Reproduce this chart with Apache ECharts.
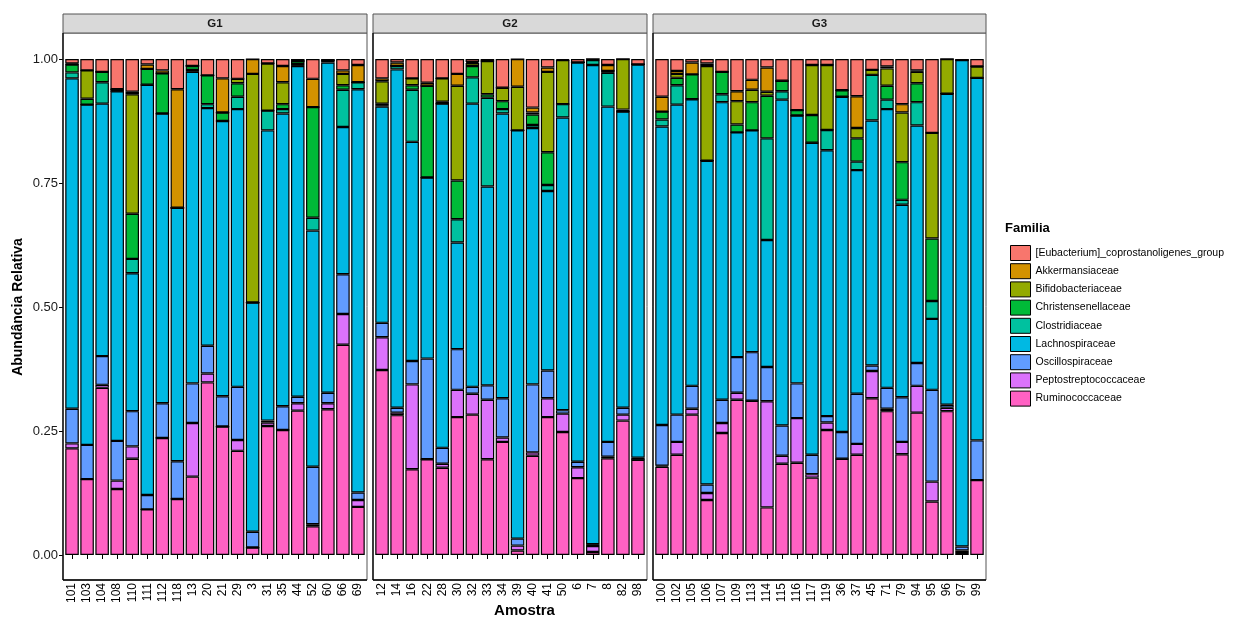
<!DOCTYPE html>
<html><head><meta charset="utf-8">
<script src="https://cdn.jsdelivr.net/npm/echarts@6/dist/echarts.min.js"></script>
<style>html,body{margin:0;padding:0;background:#fff}#c{width:1235px;height:619px}</style>
</head><body><div id="c"></div>
<script>
// ---------- DATA ----------
const groups = ['G1', 'G2', 'G3'];
const samplesG1 = ['101','103','104','108','110','111','112','118','13','20','21','29','3','31','35','44','52','60','66','69'];
const samplesG2 = ['12','14','16','22','28','30','32','33','34','39','40','41','50','6','7','8','82','98'];
const samplesG3 = ['100','102','105','106','107','109','113','114','115','116','117','119','36','37','45','71','79','94','95','96','97','99'];
const yTicks = [0, 0.25, 0.5, 0.75, 1];

// Legend order (top to bottom)
const families = ['[Eubacterium]_coprostanoligenes_group','Akkermansiaceae','Bifidobacteriaceae','Christensenellaceae','Clostridiaceae','Lachnospiraceae','Oscillospiraceae','Peptostreptococcaceae','Ruminococcaceae'];

// Values per family, samples in order G1 | G2 | G3
const ruminococcaceae = [
  .215,.153,.337,.133,.194,.092,.236,.113,.158,.348,.259,.210,.015,.260,.252,.291,.058,.294,.424,.097,
  .373,.282,.173,.193,.176,.278,.283,.193,.228,.009,.200,.278,.248,.155,.006,.195,.271,.192,
  .178,.202,.283,.111,.246,.313,.311,.096,.184,.186,.156,.252,.194,.202,.316,.290,.203,.287,.108,.290,.004,.151];
const peptostreptococcaceae = [
  .010,0,.006,.017,.025,0,0,0,.108,.018,0,.022,0,.007,0,.015,.004,.012,.062,.014,
  .066,.005,.171,0,.008,.055,.042,.120,.009,.010,.007,.038,.037,.022,.012,.003,.012,0,
  .002,.026,.012,.014,.020,.014,0,.214,.016,.090,.007,.015,0,.022,.055,.005,.025,.054,.040,.007,.005,0];
const oscillospiraceae = [
  .070,.069,.058,.080,.071,.029,.070,.076,.080,.056,.061,.107,.032,.004,.048,.013,.116,.021,.080,.015,
  .029,.010,.047,.203,.032,.082,.014,.029,.079,.014,.137,.056,.007,.011,.004,.030,.014,.004,
  .082,.055,.046,.017,.047,.072,.098,.069,.061,.070,.039,.013,.054,.101,.011,.042,.090,.046,.185,.006,.008,.080];
const lachnospiraceae = [
  .666,.686,.509,.705,.278,.827,.584,.511,.628,.479,.555,.560,.462,.585,.590,.667,.476,.666,.297,.813,
  .436,.682,.442,.365,.694,.215,.571,.401,.574,.823,.517,.362,.590,.805,.966,.676,.597,.793,
  .602,.625,.578,.653,.600,.453,.447,.256,.657,.540,.629,.536,.676,.451,.494,.562,.388,.479,.143,.627,.981,.731];
const clostridiaceae = [
  .012,0,.043,0,.029,0,0,0,.004,.008,0,.025,0,.040,.009,.004,.026,.005,.075,.014,
  .003,.007,.105,0,0,.047,.053,.179,.009,0,.006,.012,.027,0,.010,.068,0,0,
  .014,.039,0,0,.016,0,0,.205,.017,0,0,.041,0,.017,.092,.019,.010,.047,.036,0,0,0];
const christensenellaceae = [
  .016,.012,.021,.004,.091,.032,.081,0,.008,.058,.017,.027,0,0,.010,.006,.223,0,.009,0,
  .003,0,.009,.185,.004,.078,.023,.007,.016,0,.021,.066,0,0,0,.004,.004,0,
  .016,.015,.050,0,.045,.016,.057,.086,.021,.011,.056,0,.013,.047,0,.028,.076,.038,.126,0,0,0];
const bifidobacteriaceae = [
  0,.057,0,0,.241,0,0,0,0,0,0,.009,.461,.095,.044,0,0,0,.023,0,
  .045,0,.014,0,.047,.191,.006,.067,.027,.088,.004,.162,.089,0,.002,0,.102,0,
  0,.008,0,.191,0,.047,.025,.008,0,0,.101,.131,0,.021,.010,.035,.100,.023,.213,.070,0,.023];
const akkermansiaceae = [
  .002,0,0,0,.005,.009,.006,.239,0,0,.069,0,.030,0,.033,0,.057,0,.007,.035,
  .006,.007,0,.006,0,.024,.002,0,0,.056,.010,.009,0,0,0,.012,0,0,
  .030,.006,.024,.005,0,.020,.020,.049,0,0,0,0,0,.064,0,.004,.017,.003,0,0,0,0];
const eubacterium = [
  .009,.023,.026,.061,.066,.011,.023,.061,.014,.033,.039,.040,0,.009,.014,.004,.040,.002,.023,.012,
  .039,.007,.039,.048,.039,.030,.006,.004,.058,0,.098,.017,.002,.007,0,.012,0,.011,
  .076,.024,.007,.009,.026,.065,.042,.017,.044,.103,.012,.012,.063,.075,.022,.015,.091,.023,.149,0,.002,.015];

// ---------- STYLE / LAYOUT ----------
const familyValues = [eubacterium, akkermansiaceae, bifidobacteriaceae, christensenellaceae, clostridiaceae, lachnospiraceae, oscillospiraceae, peptostreptococcaceae, ruminococcaceae];
const familyColors = ['#F8766D','#D39200','#93AA00','#00BA38','#00C19F','#00B9E3','#619CFF','#DB72FB','#FF61C3'];
const FONT = '"Liberation Sans", Arial, sans-serif';
const sampleGroups = [samplesG1, samplesG2, samplesG3];
const panels = [{l:63, r:367}, {l:373, r:647}, {l:653, r:986}];
const panelTop = 33, panelBottom = 580, plotTop = 59, plotBottom = 555;

const grids = [], xAxes = [], yAxes = [], series = [], graphics = [];
let start = 0;
sampleGroups.forEach((samples, gi) => {
  const p = panels[gi];
  const n = samples.length;
  const u = (p.r - p.l) / (n + 0.2);
  const inset = 0.1 * u;
  grids.push({left: p.l + inset, width: (p.r - p.l) - 2 * inset, top: plotTop, height: plotBottom - plotTop, containLabel: false});
  xAxes.push({
    type: 'category', gridIndex: gi, data: samples, position: 'bottom', offset: panelBottom - plotBottom,
    axisLine: {show: false},
    axisTick: {show: true, alignWithLabel: true, length: 4, lineStyle: {color: '#000', width: 1}},
    axisLabel: {rotate: 90, interval: 0, margin: 3, fontSize: 12, color: '#000', fontFamily: FONT}
  });
  yAxes.push({
    type: 'value', gridIndex: gi, min: 0, max: 1, interval: 0.25, offset: inset,
    show: gi === 0,
    axisLine: {show: false},
    axisTick: {show: true, length: 4, lineStyle: {color: '#000', width: 1}},
    axisLabel: {fontSize: 13, color: '#1a1a1a', fontFamily: FONT, margin: 5,
      formatter: v => yTicks.indexOf(v) >= 0 ? v.toFixed(2) : ''},
    splitLine: {show: false}
  });
  // stack from bottom: Ruminococcaceae ... Eubacterium
  for (let k = families.length - 1; k >= 0; k--) {
    series.push({
      type: 'bar', name: families[k], stack: 'g' + gi, xAxisIndex: gi, yAxisIndex: gi,
      barWidth: '90%',
      data: familyValues[k].slice(start, start + n),
      itemStyle: {color: familyColors[k], borderColor: '#000', borderWidth: 1.2},
      emphasis: {disabled: true}
    });
  }
  start += n;
  // panel border
  graphics.push({type: 'rect', silent: true, z: 5, shape: {x: p.l, y: panelTop, width: p.r - p.l, height: panelBottom - panelTop},
    style: {fill: 'none', stroke: '#555', lineWidth: 1}});
  graphics.push({type: 'line', silent: true, z: 6, shape: {x1: p.l, y1: panelTop, x2: p.l, y2: panelBottom}, style: {stroke: '#000', lineWidth: 1.3}});
  graphics.push({type: 'line', silent: true, z: 6, shape: {x1: p.l, y1: panelBottom, x2: p.r, y2: panelBottom}, style: {stroke: '#000', lineWidth: 1.3}});
  // strip
  graphics.push({type: 'rect', silent: true, z: 5, shape: {x: p.l, y: 14, width: p.r - p.l, height: panelTop - 14},
    style: {fill: '#D9D9D9', stroke: '#555', lineWidth: 1}});
  graphics.push({type: 'text', silent: true, z: 6, x: (p.l + p.r) / 2, y: (14 + panelTop) / 2 + 0.5,
    style: {text: groups[gi], textAlign: 'center', textVerticalAlign: 'middle', fontSize: 11.5, fontWeight: 'bold', fontFamily: FONT, fill: '#1a1a1a'}});
});

// axis titles and legend title
graphics.push({type: 'text', silent: true, x: (panels[0].l + panels[2].r) / 2, y: 611,
  style: {text: 'Amostra', textAlign: 'center', textVerticalAlign: 'middle', fontSize: 15, fontWeight: 'bold', fontFamily: FONT, fill: '#000'}});
graphics.push({type: 'text', silent: true, x: 18, y: (plotTop + plotBottom) / 2, rotation: Math.PI / 2,
  style: {text: 'Abundância Relativa', textAlign: 'center', textVerticalAlign: 'middle', fontSize: 14, fontWeight: 'bold', fontFamily: FONT, fill: '#000'}});
graphics.push({type: 'text', silent: true, x: 1005, y: 228,
  style: {text: 'Familia', textAlign: 'left', textVerticalAlign: 'middle', fontSize: 13, fontWeight: 'bold', fontFamily: FONT, fill: '#000'}});

const chart = echarts.init(document.getElementById('c'), null, {renderer: 'canvas'});
chart.setOption({
  animation: false,
  backgroundColor: '#fff',
  grid: grids,
  xAxis: xAxes,
  yAxis: yAxes,
  legend: {
    data: families, orient: 'vertical', left: 1005, top: 240,
    icon: 'rect', itemWidth: 20, itemHeight: 15, itemGap: 2.2,
    selectedMode: false,
    itemStyle: {borderColor: '#000', borderWidth: 1},
    textStyle: {fontSize: 10.5, color: '#000', fontFamily: FONT}
  },
  graphic: graphics,
  series: series
});
</script>
</body></html>
